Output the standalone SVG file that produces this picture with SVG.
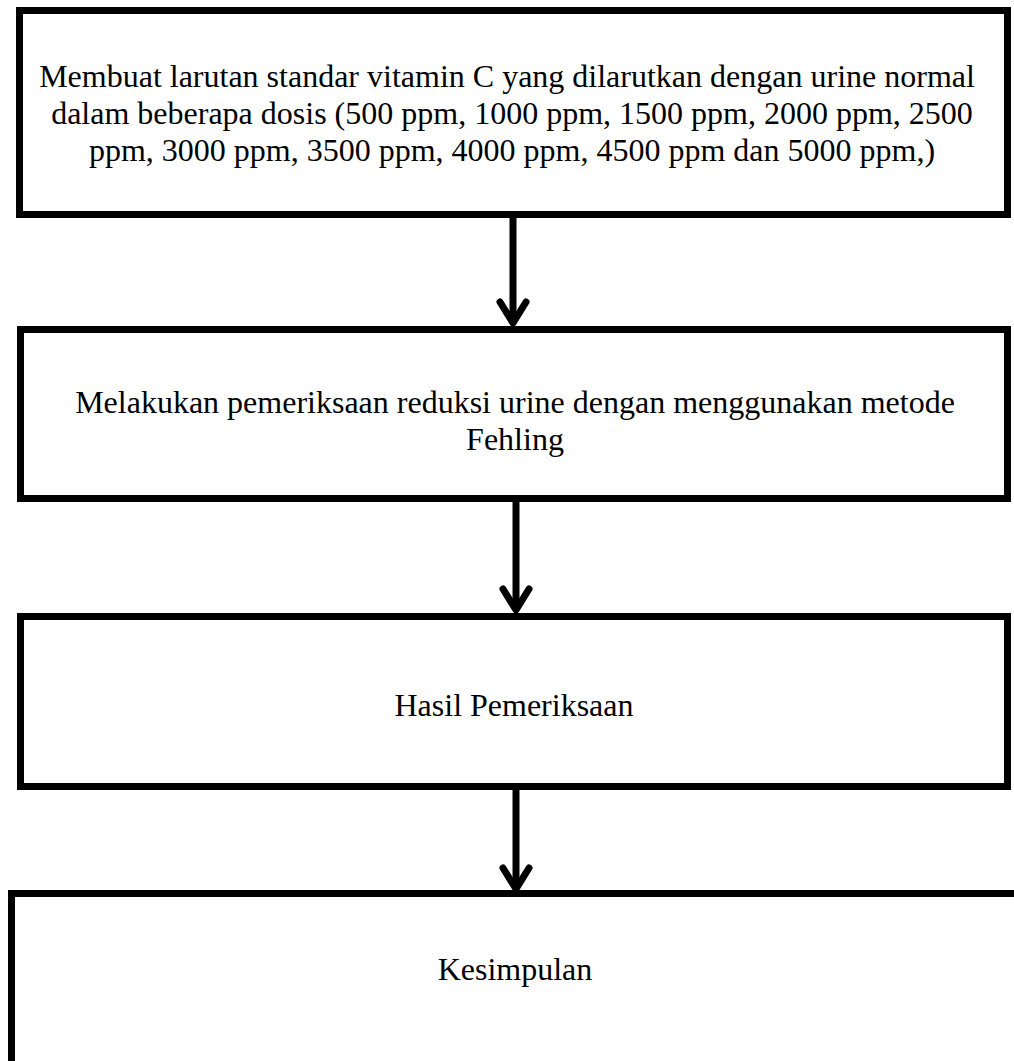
<svg xmlns="http://www.w3.org/2000/svg" width="1014" height="1061" viewBox="0 0 1014 1061">
<style>
.box{fill:#fff;stroke:#000;stroke-width:7}
.t{font-family:"Liberation Serif","Times New Roman",serif;font-size:32px;fill:#000;text-anchor:middle}
.ln{fill:none;stroke:#000;stroke-width:7}
.hd{fill:none;stroke:#000;stroke-width:7;stroke-linecap:round;stroke-linejoin:round}
</style>
<rect width="1014" height="1061" fill="#fff"/>
<g id="connectors">
<g id="a1"><path class="ln" d="M513 216 V322"/><path class="hd" d="M500 302 L513 323 L526 302"/></g>
<g id="a2"><path class="ln" d="M516 500 V609"/><path class="hd" d="M503 589 L516 610 L529 589"/></g>
<g id="a3"><path class="ln" d="M516 788 V889"/><path class="hd" d="M503 868 L516 889 L529 868"/></g>
</g>
<g id="n1">
<rect class="box" x="19.5" y="10.5" width="988" height="204"/>
<text class="t" x="507" y="87">Membuat larutan standar vitamin C yang dilarutkan dengan urine normal</text>
<text class="t" x="512" y="124">dalam beberapa dosis (500 ppm, 1000 ppm, 1500 ppm, 2000 ppm, 2500</text>
<text class="t" x="512" y="161">ppm, 3000 ppm, 3500 ppm, 4000 ppm, 4500 ppm dan 5000 ppm,)</text>
</g>
<g id="n2">
<rect class="box" x="20.5" y="329.5" width="987" height="169"/>
<text class="t" x="515" y="413">Melakukan pemeriksaan reduksi urine dengan menggunakan metode</text>
<text class="t" x="515" y="450">Fehling</text>
</g>
<g id="n3">
<rect class="box" x="20.5" y="616.5" width="987" height="170"/>
<text class="t" x="514" y="716">Hasil Pemeriksaan</text>
</g>
<g id="n4">
<rect class="box" x="11.5" y="893.5" width="1100" height="300"/>
<text class="t" x="515" y="980">Kesimpulan</text>
</g>
</svg>
